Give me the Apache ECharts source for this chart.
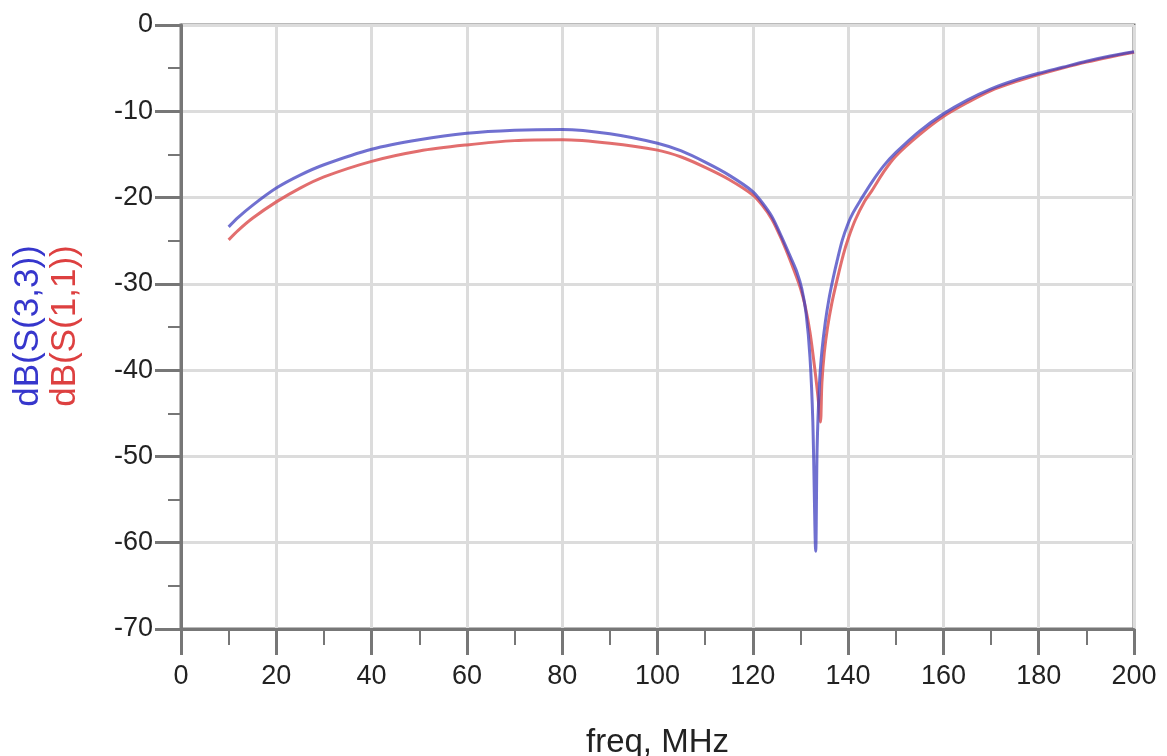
<!DOCTYPE html>
<html>
<head>
<meta charset="utf-8">
<script src="https://cdn.jsdelivr.net/npm/echarts@6/dist/echarts.min.js"></script>
<style>
  html, body { margin: 0; padding: 0; background: #fff; }
  #SParam { width: 1167px; height: 756px; }
</style>
</head>
<body>
<div id="SParam"></div>
<script>
// freq (MHz) and dB values
var freqS33 = [10, 12, 15, 20, 25, 30, 40, 50, 60, 70, 80, 90, 100, 105, 110, 115, 120, 122, 124, 126, 128, 129.3, 130.3, 131.2, 132, 132.6, 133.2, 133.5, 134, 134.5, 135.2, 136, 136.8, 137.7, 138.8, 140, 141, 142.6, 145, 147.5, 150, 155, 160, 165, 170, 175, 180, 185, 190, 195, 200]
var dbS33 = [-23.4, -22.3, -20.9, -18.9, -17.4, -16.2, -14.4, -13.3, -12.55, -12.2, -12.1, -12.6, -13.7, -14.6, -15.9, -17.4, -19.3, -20.6, -22.2, -24.5, -27.0, -28.7, -30.6, -33.5, -38.5, -46, -61, -49, -41.5, -37.8, -34.5, -31.7, -29.5, -27.3, -24.9, -23, -21.8, -20.3, -18.2, -16.3, -14.8, -12.3, -10.3, -8.7, -7.4, -6.4, -5.6, -4.9, -4.2, -3.6, -3.1]

var freqS11 = [10, 12, 15, 20, 25, 30, 40, 50, 60, 70, 80, 90, 100, 105, 110, 115, 120, 122, 124, 126, 128, 130, 131, 132, 133, 133.7, 134.2, 134.5, 135, 135.7, 136.6, 137.7, 139, 140, 141.5, 143.5, 145, 147.5, 150, 155, 160, 165, 170, 175, 180, 185, 190, 195, 200]
var dbS11 = [-24.9, -23.8, -22.4, -20.5, -18.9, -17.6, -15.8, -14.6, -13.9, -13.4, -13.3, -13.7, -14.5, -15.3, -16.5, -17.9, -19.7, -20.9, -22.5, -24.8, -27.5, -30.5, -32.6, -35.6, -39.8, -43.2, -46, -41.5, -38, -35, -32.2, -29.5, -26.6, -24.8, -22.6, -20.4, -19.2, -17, -15.2, -12.7, -10.6, -9.0, -7.6, -6.6, -5.75, -5.0, -4.3, -3.7, -3.15]

var xTicks = { min: 0, max: 200, interval: 20 }
var yTicks = { min: -70, max: 0, interval: 10 }

function pairs(xs, ys) {
  var out = []
  for (let i = 0; i < xs.length; i++) {
    out.push([xs[i], ys[i]])
  }
  return out
}

var myChart = echarts.init(document.getElementById('SParam'))
var axisColor = '#777'
var labelFont = 'Liberation Sans, Arial, sans-serif'

var option = {
  animation: false,
  grid: {
    left: 181, right: 33, top: 25, bottom: 127,
    outerBoundsMode: 'none',
    show: true, borderColor: axisColor, borderWidth: 3, backgroundColor: 'transparent'
  },
  xAxis: {
    type: 'value',
    min: xTicks.min, max: xTicks.max, interval: xTicks.interval,
    name: 'freq, MHz',
    nameLocation: 'middle',
    nameGap: 97,
    nameTextStyle: { fontSize: 33, color: '#222', fontFamily: labelFont },
    axisLine: { show: true, onZero: false, lineStyle: { color: axisColor, width: 3 } },
    axisTick: { show: true, length: 26, lineStyle: { color: axisColor, width: 3 } },
    minorTick: { show: true, splitNumber: 2, length: 16, lineStyle: { color: axisColor, width: 2 } },
    splitLine: { show: true, lineStyle: { color: '#dcdcdc', width: 3 } },
    axisLabel: { fontSize: 27, color: '#222', margin: 34, fontFamily: labelFont }
  },
  yAxis: {
    type: 'value',
    min: yTicks.min, max: yTicks.max, interval: yTicks.interval,
    axisLine: { show: true, onZero: false, lineStyle: { color: axisColor, width: 3 } },
    axisTick: { show: true, length: 26, lineStyle: { color: axisColor, width: 3 } },
    minorTick: { show: true, splitNumber: 2, length: 13, lineStyle: { color: axisColor, width: 2 } },
    splitLine: { show: true, lineStyle: { color: '#dcdcdc', width: 3 } },
    axisLabel: { fontSize: 27, color: '#222', margin: 28, fontFamily: labelFont }
  },
  graphic: [
    {
      type: 'text', x: 28, y: 326, rotation: Math.PI / 2,
      style: { text: 'dB(S(3,3))', fill: '#3636cc', font: '35px Liberation Sans, Arial, sans-serif', align: 'center', verticalAlign: 'middle' }
    },
    {
      type: 'text', x: 65, y: 326, rotation: Math.PI / 2,
      style: { text: 'dB(S(1,1))', fill: '#dd4040', font: '35px Liberation Sans, Arial, sans-serif', align: 'center', verticalAlign: 'middle' }
    }
  ],
  series: [
    {
      name: 'dB(S(1,1))',
      type: 'line',
      data: pairs(freqS11, dbS11),
      showSymbol: false,
      smooth: 0.3,
      lineStyle: { color: '#dd5555', width: 3, opacity: 0.85 }
    },
    {
      name: 'dB(S(3,3))',
      type: 'line',
      data: pairs(freqS33, dbS33),
      showSymbol: false,
      smooth: 0.3,
      lineStyle: { color: '#4040c0', width: 3, opacity: 0.75 }
    }
  ]
}

myChart.setOption(option, true)
</script>
</body>
</html>
